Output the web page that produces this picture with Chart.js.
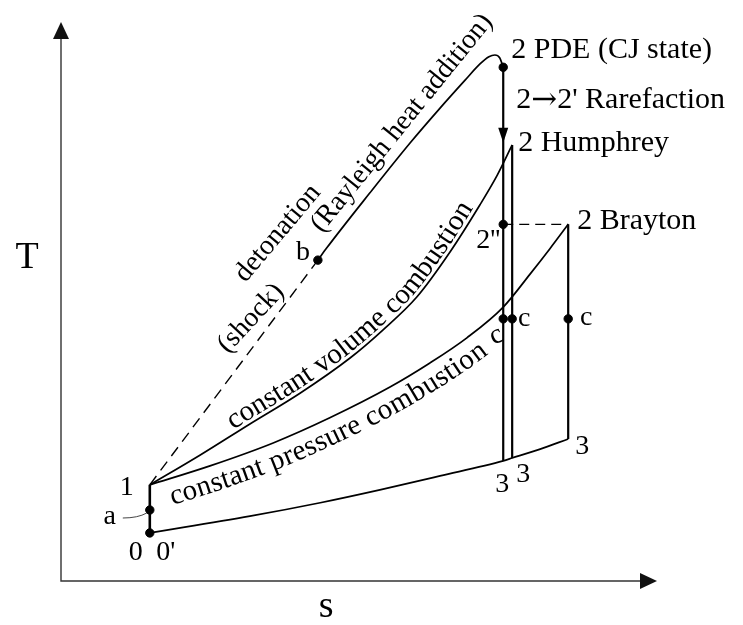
<!DOCTYPE html>
<html>
<head>
<meta charset="utf-8">
<script src="https://cdn.jsdelivr.net/npm/chart.js@4.4.1/dist/chart.umd.min.js"></script>
<style>
  body { margin: 0; background: #fff; }
  #wrap { width: 743px; height: 625px; }
</style>
</head>
<body>
<div id="wrap"><canvas id="myChart"></canvas></div>
<script>
// T-s diagram, arbitrary units (s: 0..10, T: 0..10)

// 0' -> 3 heat rejection line (lower curve)
const lowS = [1.49, 3.17, 4.35, 5.35, 6.36, 7.42, 7.57, 8.04, 8.51];
const lowT = [0.86, 1.16, 1.40, 1.63, 1.88, 2.15, 2.20, 2.36, 2.54];
// 1 -> 2 constant pressure combustion (Brayton)
const cpS = [1.49, 2.50, 3.56, 4.51, 5.52, 6.19, 6.81, 7.42, 7.87, 8.20, 8.51];
const cpT = [1.72, 2.06, 2.47, 2.92, 3.47, 3.90, 4.35, 4.90, 5.49, 5.94, 6.38];
// 1 -> 2 constant volume combustion (Humphrey)
const cvS = [1.49, 2.33, 3.17, 4.01, 4.85, 5.40, 5.97, 6.53, 7.03, 7.32, 7.57];
const cvT = [1.72, 2.25, 2.81, 3.36, 3.99, 4.49, 5.08, 5.89, 6.73, 7.26, 7.80];
// b -> 2 Rayleigh heat addition (PDE)
const rayS = [4.31, 4.46, 5.18, 5.86, 6.36, 6.78, 7.03, 7.18, 7.28, 7.36, 7.42];
const rayT = [5.74, 5.96, 6.94, 7.84, 8.46, 8.96, 9.25, 9.38, 9.41, 9.36, 9.19];

// state points
const stateNames = ['0', 'a', '1', 'b', '2 PDE', "2''", '2 Humphrey', '2 Brayton', 'c PDE', 'c Humphrey', 'c Brayton', '3 PDE', '3 Humphrey', '3 Brayton'];
const stateS = [1.49, 1.49, 1.49, 4.31, 7.42, 7.42, 7.57, 8.51, 7.42, 7.57, 8.51, 7.42, 7.57, 8.51];
const stateT = [0.86, 1.27, 1.72, 5.74, 9.19, 6.38, 7.80, 6.38, 4.69, 4.69, 4.69, 2.15, 2.20, 2.54];
const dotStates = ['0', 'a', 'b', '2 PDE', "2''", 'c PDE', 'c Humphrey', 'c Brayton'];

const serif = '"Liberation Serif", "Times New Roman", "DejaVu Serif", serif';

function xy(s, t) { return s.map((v, i) => ({ x: v, y: t[i] })); }
function st(name) { let i = stateNames.indexOf(name); return { x: stateS[i], y: stateT[i] }; }

function curve(data, extra) {
    return Object.assign({
        data: data, showLine: true, borderColor: '#000', borderWidth: 1.7,
        pointRadius: 0, cubicInterpolationMode: 'monotone', fill: false, clip: false
    }, extra || {});
}
function straight(names, extra) {
    return curve(names.map(st), Object.assign({ cubicInterpolationMode: 'default', tension: 0 }, extra || {}));
}

// label anchors are state names, offsets in px
const labels = [
    { text: '2 PDE (CJ state)', at: '2 PDE', dx: 8, dy: -17, align: 'left', size: 30 },
    { text: '2 Humphrey', at: '2 Humphrey', dx: 6, dy: -2, align: 'left', size: 30 },
    { text: '2 Brayton', at: '2 Brayton', dx: 9, dy: -3, align: 'left', size: 30 },
    { text: "2''", at: "2''", dx: -15, dy: 16, align: 'center', size: 28 },
    { text: 'b', at: 'b', dx: -15, dy: -7, align: 'center', size: 28 },
    { text: '1', at: '1', dx: -23, dy: 3, align: 'center', size: 28 },
    { text: 'a', at: 'a', dx: -40, dy: 7, align: 'center', size: 28 },
    { text: '0', at: '0', dx: -14, dy: 20, align: 'center', size: 28 },
    { text: "0'", at: '0', dx: 16, dy: 20, align: 'center', size: 28 },
    { text: 'c', at: 'c Humphrey', dx: 12, dy: 0, align: 'center', size: 28 },
    { text: 'c', at: 'c Brayton', dx: 18, dy: -1, align: 'center', size: 28 },
    { text: 'c', at: 'c PDE', dx: -7, dy: 17, align: 'center', size: 28, angle: -25 },
    { text: '3', at: '3 PDE', dx: -1, dy: 24, align: 'center', size: 28 },
    { text: '3', at: '3 Humphrey', dx: 11, dy: 17, align: 'center', size: 28 },
    { text: '3', at: '3 Brayton', dx: 14, dy: 8, align: 'center', size: 28 }
];
// rotated labels placed in data coordinates
const slanted = [
    { text: 'detonation', s: 3.64, t: 6.22, angle: -50 },
    { text: '(shock)', s: 3.19, t: 4.70, angle: -47 },
    { text: '(Rayleigh heat addition)', s: 5.72, t: 8.19, angle: -51 }
];

function bezierPath(chart, idx) {
    let p = chart.getDatasetMeta(idx).data;
    let out = [];
    for (let i = 0; i < p.length - 1; i++) {
        let a = p[i], b = p[i + 1];
        let c1x = a.cp2x ?? a.x, c1y = a.cp2y ?? a.y, c2x = b.cp1x ?? b.x, c2y = b.cp1y ?? b.y;
        for (let k = 0; k < 24; k++) {
            let t = k / 24, u = 1 - t;
            out.push({
                x: u * u * u * a.x + 3 * u * u * t * c1x + 3 * u * t * t * c2x + t * t * t * b.x,
                y: u * u * u * a.y + 3 * u * u * t * c1y + 3 * u * t * t * c2y + t * t * t * b.y
            });
        }
    }
    out.push({ x: p[p.length - 1].x, y: p[p.length - 1].y });
    return out;
}

function textOnPath(ctx, text, path, start, offset) {
    let cum = [0];
    for (let i = 1; i < path.length; i++) {
        cum.push(cum[i - 1] + Math.hypot(path[i].x - path[i - 1].x, path[i].y - path[i - 1].y));
    }
    function at(s) {
        let i = 1;
        while (i < path.length - 1 && cum[i] < s) i++;
        let a = path[i - 1], b = path[i];
        let f = (s - cum[i - 1]) / (cum[i] - cum[i - 1] || 1);
        return { x: a.x + (b.x - a.x) * f, y: a.y + (b.y - a.y) * f, ang: Math.atan2(b.y - a.y, b.x - a.x) };
    }
    let s = start;
    for (let ch of text) {
        let w = ctx.measureText(ch).width;
        let p = at(s + w / 2);
        ctx.save();
        ctx.translate(p.x + Math.sin(p.ang) * offset, p.y - Math.cos(p.ang) * offset);
        ctx.rotate(p.ang);
        ctx.fillText(ch, 0, 0);
        ctx.restore();
        s += w;
    }
}

function arrowHead(ctx, x, y, ang, len, half) {
    ctx.save();
    ctx.translate(x, y);
    ctx.rotate(ang);
    ctx.beginPath();
    ctx.moveTo(0, 0);
    ctx.lineTo(-len, -half);
    ctx.lineTo(-len, half);
    ctx.closePath();
    ctx.fill();
    ctx.restore();
}

const decor = {
    id: 'decor',
    beforeDatasetsDraw(chart) {
        let ctx = chart.ctx, xs = chart.scales.x, ys = chart.scales.y;
        let x0 = xs.getPixelForValue(0), y0 = ys.getPixelForValue(0);
        let x1 = xs.getPixelForValue(10), y1 = ys.getPixelForValue(10);
        ctx.save();
        ctx.strokeStyle = '#333';
        ctx.fillStyle = '#111';
        ctx.lineWidth = 1.4;
        ctx.beginPath();
        ctx.moveTo(x0, y1 + 10); ctx.lineTo(x0, y0); ctx.lineTo(x1 - 10, y0);
        ctx.stroke();
        arrowHead(ctx, x0, y1, -Math.PI / 2, 17, 8);
        arrowHead(ctx, x1, y0, 0, 17, 8);
        ctx.restore();
    },
    afterDatasetsDraw(chart) {
        let ctx = chart.ctx, xs = chart.scales.x, ys = chart.scales.y;
        let px = (p) => ({ x: xs.getPixelForValue(p.x), y: ys.getPixelForValue(p.y) });
        ctx.save();
        ctx.fillStyle = '#000';
        ctx.strokeStyle = '#000';

        // rarefaction arrow on the PDE line
        let tip = px({ x: st('2 PDE').x, y: 7.84 });
        arrowHead(ctx, tip.x, tip.y, Math.PI / 2, 15, 5);

        // leader from "a"
        let a = px(st('a'));
        ctx.lineWidth = 1;
        ctx.strokeStyle = '#444';
        ctx.beginPath();
        ctx.moveTo(a.x - 27, a.y + 8);
        ctx.quadraticCurveTo(a.x - 12, a.y + 8, a.x - 3, a.y + 3);
        ctx.stroke();

        // axis titles
        ctx.textAlign = 'center';
        ctx.textBaseline = 'middle';
        ctx.font = '38px ' + serif;
        ctx.fillText('T', xs.getPixelForValue(0) - 34, ys.getPixelForValue(5.78));
        ctx.fillText('s', xs.getPixelForValue(4.45), ys.getPixelForValue(0) + 26);

        // state labels
        labels.forEach(function (l) {
            let p = px(st(l.at));
            ctx.font = l.size + 'px ' + serif;
            ctx.textAlign = l.align;
            ctx.save();
            ctx.translate(p.x + l.dx, p.y + l.dy);
            if (l.angle) ctx.rotate(l.angle * Math.PI / 180);
            ctx.fillText(l.text, 0, 0);
            ctx.restore();
        });

        // rarefaction label, arrow glyph from DejaVu (longer arrow)
        let r = px(st('2 PDE'));
        let rx = r.x + 13, ry = r.y + 33;
        ctx.textAlign = 'left';
        ctx.font = '30px ' + serif;
        ctx.fillText('2', rx, ry);
        rx += ctx.measureText('2').width;
        ctx.font = '31px "DejaVu Serif", serif';
        ctx.fillText('\u2192', rx, ry + 1);
        rx += ctx.measureText('\u2192').width;
        ctx.font = '30px ' + serif;
        ctx.fillText("2' Rarefaction", rx, ry);

        // slanted process labels
        ctx.font = '28px ' + serif;
        ctx.textAlign = 'center';
        slanted.forEach(function (l) {
            ctx.save();
            ctx.translate(xs.getPixelForValue(l.s), ys.getPixelForValue(l.t));
            ctx.rotate(l.angle * Math.PI / 180);
            ctx.fillText(l.text, 0, 0);
            ctx.restore();
        });

        // labels following the combustion curves
        ctx.font = '29px ' + serif;
        ctx.textBaseline = 'alphabetic';
        textOnPath(ctx, 'constant volume combustion', bezierPath(chart, 2), 100, 4);
        textOnPath(ctx, 'constant pressure combustion', bezierPath(chart, 1), 16, -26);
        ctx.restore();
    }
};

var ctx = document.getElementById('myChart');
var myChart = new Chart(ctx, {
    type: 'scatter',
    data: {
        datasets: [
            curve(xy(lowS, lowT)),
            curve(xy(cpS, cpT)),
            curve(xy(cvS, cvT)),
            curve(xy(rayS, rayT)),
            straight(['1', 'b'], { borderDash: [11, 7], borderWidth: 1.4 }),
            straight(["2''", '2 Brayton'], { borderDash: [10, 6], borderWidth: 1.2 }),
            straight(['2 PDE', '3 PDE'], { borderWidth: 2.2 }),
            straight(['2 Humphrey', '3 Humphrey'], { borderWidth: 2.2 }),
            straight(['2 Brayton', '3 Brayton'], { borderWidth: 2.2 }),
            straight(['1', '0'], { borderWidth: 2.6 }),
            {
                data: dotStates.map(st), showLine: false, pointRadius: 4.2,
                pointBackgroundColor: '#000', pointBorderColor: '#000', clip: false
            }
        ],
    },
    options: {
        responsive: true,
        maintainAspectRatio: false,
        animation: false,
        layout: { padding: { left: 61, right: 86, top: 22, bottom: 44 } },
        scales: {
            x: { type: 'linear', min: 0, max: 10, display: false },
            y: { type: 'linear', min: 0, max: 10, display: false }
        },
        plugins: { legend: { display: false }, tooltip: { enabled: false } }
    },
    plugins: [decor]
});
</script>
</body>
</html>
